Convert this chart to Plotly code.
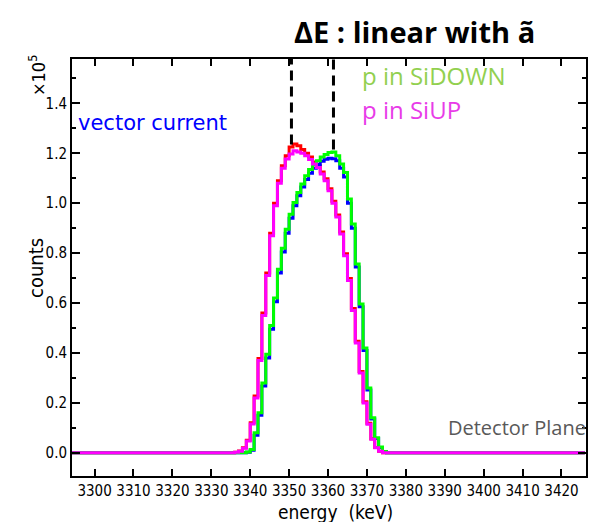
import plotly.graph_objects as go

# ---------------- data (counts in units of 1e5) ----------------
E_MIN, E_MAX = 3294, 3426          # histogram range (keV), 1 keV bins

# first non-empty bin of each series, and the bin contents from there on
sidown_start = 3338
sidown_vals = [0.0, 0.003, 0.013, 0.08, 0.16, 0.28, 0.395, 0.51, 0.62, 0.735,
               0.82, 0.896, 0.956, 1.003, 1.043, 1.077, 1.11, 1.135, 1.155, 1.17,
               1.185, 1.195, 1.203, 1.205, 1.19, 1.157, 1.123, 1.017, 0.917, 0.757,
               0.596, 0.42, 0.26, 0.14, 0.06, 0.023, 0.005]

vector_start = 3338
vector_vals = [0.0, 0.002, 0.01, 0.07, 0.15, 0.268, 0.38, 0.495, 0.605, 0.72,
               0.805, 0.88, 0.94, 0.99, 1.03, 1.065, 1.095, 1.12, 1.14, 1.155,
               1.168, 1.176, 1.18, 1.178, 1.17, 1.14, 1.105, 1.0, 0.9, 0.745,
               0.585, 0.41, 0.252, 0.135, 0.057, 0.021, 0.004]

siup_start = 3336
siup_vals = [0.002, 0.006, 0.018, 0.047, 0.115, 0.22, 0.37, 0.55, 0.71, 0.87,
             0.99, 1.08, 1.14, 1.177, 1.197, 1.21, 1.205, 1.20, 1.19, 1.175,
             1.157, 1.143, 1.117, 1.09, 1.05, 1.0, 0.945, 0.877, 0.79, 0.69,
             0.57, 0.44, 0.32, 0.20, 0.114, 0.054, 0.02, 0.006]

axial_start = 3336
axial_vals = [0.002, 0.007, 0.02, 0.05, 0.12, 0.228, 0.378, 0.56, 0.72, 0.88,
              1.0, 1.09, 1.15, 1.19, 1.225, 1.237, 1.23, 1.215, 1.20, 1.185,
              1.165, 1.15, 1.125, 1.098, 1.058, 1.008, 0.953, 0.885, 0.798, 0.698,
              0.578, 0.447, 0.326, 0.205, 0.118, 0.056, 0.021, 0.006]

peak_positions = [3350.6, 3361.4]    # dashed markers (keV)
peak_marker_bottom = [1.235, 1.215]

x_ticks = list(range(3300, 3421, 10))
y_ticks = [0.0, 0.2, 0.4, 0.6, 0.8, 1.0, 1.2, 1.4]
y_minor = [0.1, 0.3, 0.5, 0.7, 0.9, 1.1, 1.3, 1.5]

X_RANGE = [3294.2, 3426.3]
Y_RANGE = [-0.093, 1.578]


def full_hist(start, vals):
    edges = list(range(E_MIN, E_MAX + 1))
    contents = [0.0] * (E_MAX - E_MIN)
    for i, v in enumerate(vals):
        k = start - E_MIN + i
        if 0 <= k < len(contents):
            contents[k] = v
    return edges, contents + [contents[-1]]


fig = go.Figure()
series = [
    ("axial", axial_start, axial_vals, "#ff0000"),
    ("vector current", vector_start, vector_vals, "#0000ff"),
    ("p in SiDOWN", sidown_start, sidown_vals, "#00ff00"),
    ("p in SiUP", siup_start, siup_vals, "#ff00ff"),
]
for name, st, vals, col in series:
    ex, ey = full_hist(st, vals)
    fig.add_trace(go.Scatter(x=ex, y=ey, mode="lines", name=name,
                             line=dict(color=col, width=3, shape="hv"),
                             showlegend=False, hoverinfo="skip"))

for xp, yb in zip(peak_positions, peak_marker_bottom):
    fig.add_shape(type="line", xref="x", yref="y", x0=xp, x1=xp, y0=yb, y1=Y_RANGE[1],
                  line=dict(color="black", width=3, dash="10px,6px"))

NARROW = "Liberation Sans Narrow, DejaVu Sans Condensed, Arial Narrow, sans-serif"
tick_font = dict(family=NARROW, size=15, color="black")

fig.update_xaxes(range=X_RANGE, tickvals=x_ticks, ticks="inside", ticklen=7, tickwidth=1.5,
                 tickcolor="black", showgrid=False, zeroline=False, mirror="ticks",
                 showline=True, linecolor="black", linewidth=2, tickfont=tick_font)
fig.update_yaxes(range=Y_RANGE, tickvals=y_ticks, ticktext=[f"{v:.1f}" for v in y_ticks],
                 ticks="inside", ticklen=8, tickwidth=1.5, tickcolor="black",
                 showgrid=False, zeroline=False, mirror="ticks", showline=True,
                 linecolor="black", linewidth=2, tickfont=tick_font,
                 minor=dict(tickvals=y_minor, ticks="inside", ticklen=4, tickcolor="black",
                            tickwidth=1.5))

W, H = 602, 522
L, R, T, B = 72, 16, 59, 46
pw, ph = W - L - R, H - T - B


def px(x):
    return (x - L) / pw


def py(y):
    return (H - B - y) / ph


annots = [
    dict(text="<b>ΔE : linear with ã</b>", x=px(414), y=py(32), xanchor="center", yanchor="middle",
         font=dict(family="Open Sans, Lato, sans-serif", size=29, color="black")),
    dict(text="p in SiDOWN", x=px(360), y=py(76), xanchor="left", yanchor="middle",
         font=dict(family="Open Sans, Lato, sans-serif", size=24, color="#92d050")),
    dict(text="p in SiUP", x=px(360), y=py(109), xanchor="left", yanchor="middle",
         font=dict(family="Open Sans, Lato, sans-serif", size=24, color="#e83be8")),
    dict(text="vector current", x=px(76), y=py(123), xanchor="left", yanchor="middle",
         font=dict(family="DejaVu Sans, sans-serif", size=21, color="#0000ff")),
    dict(text="Detector Plane", x=px(446), y=py(427), xanchor="left", yanchor="middle",
         font=dict(family="Open Sans, Lato, sans-serif", size=20, color="#595959")),
    dict(text="counts", x=px(36), y=py(268), xanchor="center", yanchor="middle", textangle=-90,
         font=dict(family=NARROW, size=20, color="black")),
    dict(text="×10<sup>5</sup>", x=px(37), y=py(76), xanchor="center", yanchor="middle",
         textangle=-90, font=dict(family=NARROW, size=18, color="black")),
    dict(text="energy  (keV)", x=px(335), y=py(512), xanchor="center", yanchor="middle",
         font=dict(family=NARROW, size=19, color="black")),
]
for a in annots:
    a.update(xref="paper", yref="paper", showarrow=False)
fig.update_layout(annotations=annots)

fig.update_layout(width=W, height=H, margin=dict(l=L, r=R, t=T, b=B),
                  paper_bgcolor="white", plot_bgcolor="white", showlegend=False)

fig.write_html("out.html")
